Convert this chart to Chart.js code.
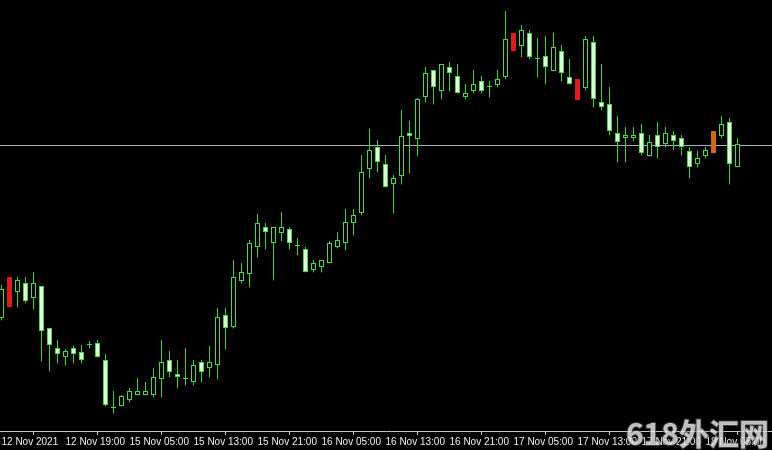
<!DOCTYPE html>
<html>
<head>
<meta charset="utf-8">
<title>H1 candles</title>
<script src="https://cdn.jsdelivr.net/npm/chart.js@4.4.0/dist/chart.umd.min.js"></script>
<style>
html, body { margin: 0; padding: 0; background: #000; }
#wrap { width: 772px; height: 450px; position: relative; }
</style>
</head>
<body>
<div id="wrap"><canvas id="candleChart"></canvas></div>
<script>
// OHLC, one entry per hourly bar (units, bottom = 19, top = 450)
var opens = [132,173,158,167,152,164,122,102,93,102,98,105,107,90,42,44,50,55,55,55,71,90,76,71,68,88,82,85,135,123,
  169,176,203,223,207,217,221,204,201,180,183,187,203,207,227,237,281,303,286,266,274,317,311,353,380,359,383,374,353,359,
  369,363,365,373,417,404,417,391,394,379,399,373,371,362,408,348,346,317,312,312,317,294,315,306,315,312,299,286,294,319,
  314,328,283];
var highs = [165,173,173,173,178,164,122,110,101,104,105,109,110,96,59,55,62,72,68,82,110,99,90,102,90,90,104,142,142,190,
  187,210,236,227,223,238,223,212,203,190,190,209,218,241,241,295,321,310,295,275,340,329,352,383,380,386,388,386,366,380,
  374,369,380,439,417,425,420,412,414,417,405,391,371,414,414,386,363,334,323,323,326,315,328,323,319,315,303,299,303,319,
  334,332,312];
var lows = [130,143,143,147,141,89,79,87,85,87,87,102,93,44,37,44,48,55,55,53,53,73,62,65,65,68,73,71,101,122,
  167,163,193,201,170,209,201,195,178,178,178,187,202,200,215,235,272,278,263,237,266,277,294,348,346,351,359,357,351,357,
  357,353,363,371,399,393,391,373,366,379,369,366,350,360,343,340,315,288,288,309,295,294,292,303,300,295,272,283,292,297,
  312,266,283];
var closes = [161,143,170,149,167,119,105,96,99,96,90,106,93,45,43,54,59,59,59,73,88,78,73,72,85,78,88,133,122,173,
  178,207,227,218,223,223,207,205,178,187,190,207,210,228,235,278,300,288,263,272,314,314,351,377,363,386,377,357,357,366,
  359,364,371,411,399,420,393,392,383,403,377,366,350,411,351,343,319,308,315,315,297,308,303,317,309,303,283,292,300,297,
  326,286,306];

var bidLevel = 304.5;
var redBars = [1, 64, 72];
var orangeBars = [89];

var tickBars = [0, 8, 16, 24, 32, 40, 48, 56, 64, 72, 80, 88];
var tickLabels = ['12 Nov 2021', '12 Nov 19:00', '15 Nov 05:00', '15 Nov 13:00', '15 Nov 21:00', '16 Nov 05:00',
  '16 Nov 13:00', '16 Nov 21:00', '17 Nov 05:00', '17 Nov 13:00', '17 Nov 21:00', '18 Nov 05:00'];

var xMin = -0.1875, xMax = 96.3125;

function bodyColor(i) {
  if (redBars.indexOf(i) >= 0) return '#d81e1e';
  if (orangeBars.indexOf(i) >= 0) return '#d2651e';
  return closes[i] >= opens[i] ? '#000000' : '#e2ffdc';
}

function borderColor(i) {
  if (redBars.indexOf(i) >= 0) return '#d81e1e';
  if (orangeBars.indexOf(i) >= 0) return '#d2651e';
  return '#4cd84c';
}

var watermark = {
  id: 'watermark',
  afterDraw: function(chart) {
    var ctx = chart.ctx;
    ctx.save();
    ctx.font = 'bold 30px "Noto Sans CJK SC", "Noto Sans", sans-serif';
    ctx.textAlign = 'right';
    ctx.textBaseline = 'alphabetic';
    ctx.lineWidth = 2;
    ctx.strokeStyle = 'rgba(90,90,90,0.7)';
    ctx.strokeText('618外汇网', 769, 445);
    ctx.fillStyle = 'rgba(235,235,235,0.8)';
    ctx.fillText('618外汇网', 769, 445);
    ctx.restore();
  }
};

function drawChart() {
  var bodies = [], wicks = [], lowDots = [];
  for (var i = 0; i < opens.length; i++) {
    bodies.push({ x: i, y: [opens[i], closes[i]] });
    wicks.push({ x: i, y: [lows[i], highs[i]] });
    lowDots.push({ x: i, y: lows[i] });
  }

  var ctx = document.getElementById('candleChart').getContext('2d');
  new Chart(ctx, {
    type: 'bar',
    data: {
      datasets: [{
        label: 'body',
        data: bodies,
        order: 0,
        grouped: false,
        barThickness: 5,
        borderWidth: 1,
        borderSkipped: false,
        inflateAmount: 0,
        backgroundColor: opens.map(function(v, i) { return bodyColor(i); }),
        borderColor: opens.map(function(v, i) { return borderColor(i); })
      }, {
        label: 'wick',
        data: wicks,
        order: 1,
        grouped: false,
        barThickness: 1,
        borderWidth: 0,
        inflateAmount: 0,
        backgroundColor: '#3fcf3f'
      }, {
        type: 'line',
        label: 'low',
        data: lowDots,
        order: 2,
        showLine: false,
        pointStyle: 'rect',
        pointRadius: 1,
        pointHoverRadius: 0,
        pointBorderWidth: 0,
        pointBackgroundColor: '#8a2a14'
      }, {
        type: 'line',
        label: 'bid',
        data: [{ x: xMin, y: bidLevel }, { x: xMax, y: bidLevel }],
        order: 3,
        borderColor: '#9fb2c0',
        borderWidth: 1,
        pointRadius: 0,
        pointHoverRadius: 0
      }]
    },
    options: {
      responsive: true,
      maintainAspectRatio: false,
      animation: false,
      layout: { padding: 0, autoPadding: false },
      plugins: { legend: { display: false }, tooltip: { enabled: false } },
      scales: {
        x: {
          type: 'linear',
          min: xMin,
          max: xMax,
          offset: false,
          afterBuildTicks: function(scale) {
            scale.ticks = tickBars.map(function(v) { return { value: v }; });
          },
          afterFit: function(scale) { scale.height = 19; },
          grid: { drawOnChartArea: false, drawTicks: true, tickLength: 4, color: '#c8c8c8' },
          border: { display: true, color: '#c8c8c8' },
          ticks: {
            autoSkip: false,
            maxRotation: 0,
            align: 'start',
            padding: 1,
            color: '#f0f0f0',
            font: { family: 'Liberation Sans', size: 10 },
            callback: function(value) {
              var k = tickBars.indexOf(value);
              return k >= 0 ? tickLabels[k] : '';
            }
          }
        },
        y: {
          type: 'linear',
          min: 19,
          max: 450,
          display: false
        }
      }
    },
    plugins: [watermark]
  });
}

drawChart();
</script>
</body>
</html>
